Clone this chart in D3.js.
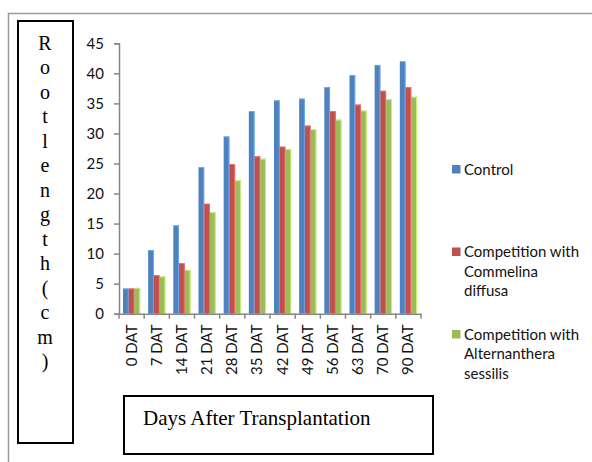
<!DOCTYPE html>
<html>
<head>
<meta charset="utf-8">
<script src="https://cdn.jsdelivr.net/npm/d3@7"></script>
<style>
  html, body { margin: 0; padding: 0; background: #fff; }
  svg { display: block; }
</style>
</head>
<body>
<script>
// Root length (cm) by days after transplantation
const categories = ["0 DAT", "7 DAT", "14 DAT", "21 DAT", "28 DAT", "35 DAT", "42 DAT", "49 DAT", "56 DAT", "63 DAT", "70 DAT", "90 DAT"];
const seriesNames = ["Control", "Competition with Commelina diffusa", "Competition with Alternanthera sessilis"];
const legendLines = [["Control"], ["Competition with", "Commelina", "diffusa"], ["Competition with", "Alternanthera", "sessilis"]];
const control     = [4.2, 10.6, 14.7, 24.4, 29.5, 33.7, 35.5, 35.8, 37.7, 39.7, 41.4, 42.0];
const commelina   = [4.2, 6.4, 8.4, 18.3, 24.9, 26.2, 27.8, 31.3, 33.7, 34.8, 37.1, 37.7];
const alternanthera = [4.3, 6.2, 7.3, 16.9, 22.2, 25.8, 27.4, 30.7, 32.3, 33.8, 35.7, 36.1];
const yTicks = [0, 5, 10, 15, 20, 25, 30, 35, 40, 45];
const yLabel = "Rootlength(cm)";
const xLabel = "Days After Transplantation";

const values = [control, commelina, alternanthera];
const colors = ["#4F81BD", "#C0504D", "#9BBB59"];
const W = 592, H = 462;
const sans = "Lato, 'Open Sans', sans-serif";
const serif = "'Liberation Serif', 'Times New Roman', serif";

const svg = d3.select("body").append("svg").attr("width", W).attr("height", H);

// outer frame (runs off the right and bottom edges)
svg.append("rect").attr("x", 8.5).attr("y", 13.5).attr("width", 700).attr("height", 600)
  .attr("fill", "none").attr("stroke", "#9a9a9a").attr("stroke-width", 1.5);

const x0 = d3.scaleBand().domain(categories).range([119, 421]).paddingInner(0.317).paddingOuter(0.1585);
const x1 = d3.scaleBand().domain(seriesNames).range([0, x0.bandwidth()]);
const y = d3.scaleLinear().domain([0, 45]).range([313.7, 43.3]);

// bars
const groups = svg.append("g").selectAll("g").data(categories).join("g")
  .attr("transform", d => `translate(${x0(d)},0)`);
groups.each(function (cat, i) {
  const g = d3.select(this);
  seriesNames.forEach((s, k) => {
    const v = values[k][i];
    g.append("rect")
      .attr("x", x1(s)).attr("y", y(v))
      .attr("width", x1.bandwidth()).attr("height", y(0) - y(v))
      .attr("fill", colors[k]);
    // light edge along the right side and top of each bar
    const edge = d3.color(colors[k]).brighter(0.9).formatHex();
    g.append("path")
      .attr("d", `M${x1(s) + 0.5},${y(v) + 0.5}H${x1(s) + x1.bandwidth() - 0.5}V${y(0)}`)
      .attr("fill", "none").attr("stroke", edge).attr("stroke-width", 1).attr("opacity", 0.8);
  });
});

// y axis
const yAxis = svg.append("g").attr("transform", "translate(119,0)")
  .call(d3.axisLeft(y).tickValues(yTicks).tickSize(5).tickPadding(10).tickSizeOuter(5));
yAxis.select(".domain").attr("stroke", "#868686").attr("stroke-width", 1.5);
yAxis.selectAll(".tick line").attr("stroke", "#868686").attr("stroke-width", 1.5);
yAxis.selectAll("text").attr("font-family", sans).attr("font-size", 15).attr("fill", "#111");

// x axis with ticks between categories
const xAxis = svg.append("g").attr("transform", `translate(0,${y(0)})`)
  .call(d3.axisBottom(x0).tickSize(0).tickSizeOuter(0).tickPadding(0));
xAxis.select(".domain").attr("stroke", "#868686").attr("stroke-width", 1.5);
xAxis.selectAll(".tick line").remove();
const step = x0.step();
const bounds = d3.range(categories.length + 1).map(i => 119 + i * step);
xAxis.selectAll("line.sep").data(bounds).join("line").attr("class", "sep")
  .attr("x1", d => d).attr("x2", d => d).attr("y1", 0).attr("y2", 5)
  .attr("stroke", "#868686").attr("stroke-width", 1.5);
xAxis.selectAll(".tick text")
  .attr("font-family", sans).attr("font-size", 15).attr("fill", "#111")
  .attr("text-anchor", "end").attr("dy", null)
  .attr("transform", "translate(5,11) rotate(-90)")
  .attr("x", 0).attr("y", 0);

// y label box with stacked letters
svg.append("rect").attr("x", 18).attr("y", 21).attr("width", 55).attr("height", 422)
  .attr("fill", "none").attr("stroke", "#000").attr("stroke-width", 2);
svg.append("g").selectAll("text").data(Array.from(yLabel)).join("text")
  .attr("x", 45).attr("y", (d, i) => 49.5 + i * 24.5)
  .attr("text-anchor", "middle").attr("font-family", serif).attr("font-size", 20).attr("fill", "#000")
  .text(d => d);

// x label box
svg.append("rect").attr("x", 124).attr("y", 396).attr("width", 309).attr("height", 58)
  .attr("fill", "none").attr("stroke", "#000").attr("stroke-width", 2);
svg.append("text").attr("x", 143).attr("y", 425)
  .attr("font-family", serif).attr("font-size", 21).attr("fill", "#000").text(xLabel);

// legend
const legendY = [165, 247.5, 330];
const legend = svg.append("g");
legendLines.forEach((lines, k) => {
  legend.append("rect").attr("x", 452).attr("y", legendY[k]).attr("width", 8.5).attr("height", 8.5)
    .attr("fill", colors[k]);
  lines.forEach((t, j) => {
    legend.append("text").attr("x", 464).attr("y", legendY[k] + 9.5 + j * 19.6)
      .attr("font-family", sans).attr("font-size", 15).attr("fill", "#111").text(t);
  });
});
</script>
</body>
</html>
